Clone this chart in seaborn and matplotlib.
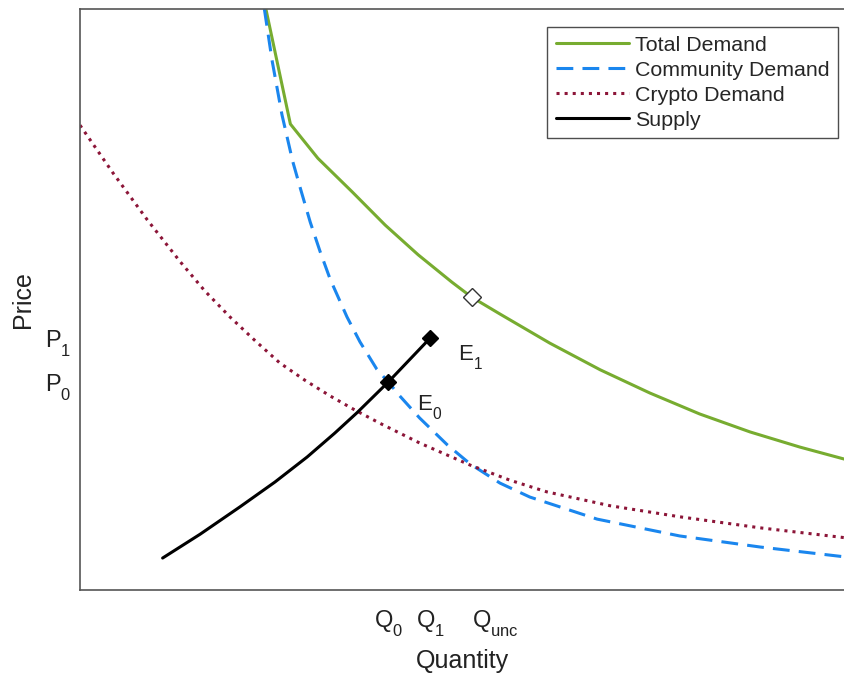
import numpy as np
import pandas as pd
import matplotlib
matplotlib.use("Agg")
import matplotlib.pyplot as plt
import matplotlib._mathtext as mathtext_internal
import seaborn as sns

# Curves (quantity, price in arbitrary units 0-10)
total_q = [2.43, 2.75, 3.11, 3.56, 3.99, 4.42, 4.86, 5.12, 5.49, 6.14,
           6.80, 7.45, 8.10, 8.76, 9.41, 10.0]
total_p = [10.0, 8.02, 7.43, 6.85, 6.28, 5.77, 5.30, 5.04, 4.75, 4.25,
           3.79, 3.39, 3.03, 2.72, 2.46, 2.25]

community_q = [2.41, 2.51, 2.64, 2.78, 2.89, 3.01, 3.14, 3.27, 3.49, 3.66, 3.88, 4.03,
               4.18, 4.44, 4.80, 5.10, 5.49, 5.88, 6.76, 7.84, 8.89, 10.0]
community_p = [10.0, 9.12, 8.18, 7.38, 6.87, 6.33, 5.82, 5.35, 4.70, 4.27, 3.80, 3.58,
               3.34, 2.96, 2.50, 2.17, 1.84, 1.60, 1.22, 0.93, 0.74, 0.57]

crypto_q = [0.0, 0.43, 0.88, 1.31, 1.63, 1.96, 2.29, 2.61, 2.94, 3.27, 3.59,
            3.92, 4.44, 5.10, 5.62, 6.10, 6.93, 7.84, 8.89, 10.0]
crypto_p = [8.00, 7.18, 6.37, 5.65, 5.15, 4.70, 4.29, 3.91, 3.61, 3.34, 3.10,
            2.87, 2.53, 2.15, 1.89, 1.69, 1.45, 1.26, 1.07, 0.90]

supply_q = [1.08, 1.57, 2.09, 2.55, 2.97, 3.33, 3.62, 4.03, 4.58]
supply_p = [0.55, 0.96, 1.43, 1.86, 2.29, 2.70, 3.05, 3.58, 4.34]

# Equilibria
eq_q = [4.03, 4.58]
eq_p = [3.58, 4.34]
eq_labels = [r"$\mathregular{E_0}$", r"$\mathregular{E_1}$"]
unc_q = 5.12
unc_p = 5.04

x_ticks = [4.03, 4.58, 5.12]
x_tick_labels = [r"$\mathregular{Q_0}$", r"$\mathregular{Q_1}$", r"$\mathregular{Q_{unc}}$"]
y_ticks = [3.58, 4.34]
y_tick_labels = [r"$\mathregular{P_0}$", r"$\mathregular{P_1}$"]

sns.set_theme(style="white")
plt.rcParams["font.family"] = ["Liberation Sans", "DejaVu Sans"]
plt.rcParams["mathtext.fontset"] = "custom"
plt.rcParams["mathtext.rm"] = "Liberation Sans"
plt.rcParams["mathtext.it"] = "Liberation Sans"
# drop subscripts lower, like the original
mathtext_internal.FontConstantsBase.sub1 = 0.75

fig = plt.figure(figsize=(8.45, 6.73), dpi=100)
ax = fig.add_axes([80 / 845, 83 / 673, 765 / 845, 581 / 673])

def curve(q, p):
    return pd.DataFrame({"Quantity": q, "Price": p})

sns.lineplot(data=curve(total_q, total_p), x="Quantity", y="Price", sort=False,
             estimator=None, color="#77AC30", lw=2.2, label="Total Demand", ax=ax)
sns.lineplot(data=curve(community_q, community_p), x="Quantity", y="Price", sort=False,
             estimator=None, color="#1A86EE", lw=2.2, label="Community Demand", ax=ax)
sns.lineplot(data=curve(crypto_q, crypto_p), x="Quantity", y="Price", sort=False,
             estimator=None, color="#8C1538", lw=2.2, label="Crypto Demand", ax=ax)
sns.lineplot(data=curve(supply_q, supply_p), x="Quantity", y="Price", sort=False,
             estimator=None, color="black", lw=2.2, label="Supply", ax=ax)

lines = ax.get_lines()
lines[1].set_dashes([5.5, 3])
lines[2].set_linestyle(":")
for ln in lines:
    ln.set_solid_joinstyle("round")
    ln.set_dash_joinstyle("round")

ax.plot(eq_q, eq_p, "D", color="black", ms=8, ls="none")
ax.plot([unc_q], [unc_p], "D", mfc="white", mec="#333333", ms=9, mew=1, ls="none")

ax.text(eq_q[0] + 0.38, eq_p[0] - 0.48, eq_labels[0], fontsize=16, color="#222222")
ax.text(eq_q[1] + 0.36, eq_p[1] - 0.38, eq_labels[1], fontsize=16, color="#222222")

ax.set_xlim(0, 10)
ax.set_ylim(0, 10)
ax.set_xticks(x_ticks)
ax.set_xticklabels(x_tick_labels, fontsize=17, color="#222222")
ax.get_xticklabels()[2].set_horizontalalignment("left")
ax.set_yticks(y_ticks)
ax.set_yticklabels(y_tick_labels, fontsize=17, color="#222222")
ax.tick_params(direction="in", length=5, width=1, color="#444444")
ax.tick_params(axis="x", pad=13)
ax.tick_params(axis="y", pad=6)
ax.set_xlabel("Quantity", fontsize=18, color="#222222", labelpad=7.5)
ax.set_ylabel("Price", fontsize=18, color="#222222", labelpad=7)

for side in ["left", "bottom", "top"]:
    ax.spines[side].set_color("#555555")
    ax.spines[side].set_linewidth(1.2)
ax.spines["right"].set_visible(False)

leg = ax.legend(loc="upper right", bbox_to_anchor=(0.991, 0.969), fontsize=15.4,
                frameon=True, fancybox=False, edgecolor="#222222", handlelength=3.4,
                handletextpad=0.3, borderpad=0.4, labelspacing=0.28, borderaxespad=0)
leg.get_frame().set_linewidth(1.0)

fig.savefig("out.png", dpi=100)
